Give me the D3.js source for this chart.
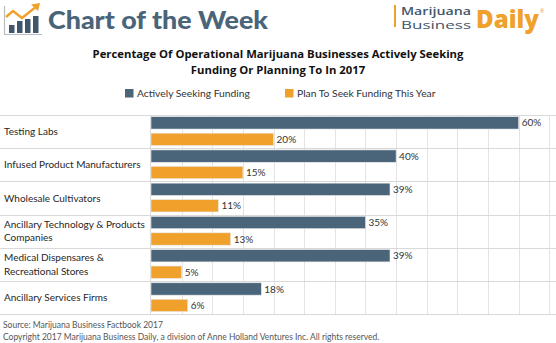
<!DOCTYPE html>
<html><head><meta charset="utf-8">
<script src="https://cdn.jsdelivr.net/npm/d3@7"></script>
<style>
html,body{margin:0;padding:0;background:#fff;}
svg{display:block;font-family:Lato,"Open Sans",sans-serif;}
</style></head>
<body>
<script>
const categories = [["Testing Labs"],["Infused Product Manufacturers"],["Wholesale Cultivators"],["Ancillary Technology & Products","Companies"],["Medical Dispensares &","Recreational Stores"],["Ancillary Services Firms"]];
const seriesNames = ["Actively Seeking Funding","Plan To Seek Funding This Year"];
const activelySeeking = [60,40,39,35,39,18];
const planToSeek = [20,15,11,13,5,6];
const gridTicks = [0,5,10,15,20,25,30,35,40,45,50,55,60,65];
const colors = ["#4a6479","#f0a12c"];

const W=556,H=343;
const svg=d3.select("body").append("svg").attr("width",W).attr("height",H);

// Header logo left
const lg=svg.append("g");
lg.append("path").attr("d","M4.5,6 V34.5 H42").attr("fill","none").attr("stroke","#b9bcc0").attr("stroke-width",1.2);
[[9,25],[17,21],[25,19],[33,16]].forEach(([x,y])=>lg.append("rect").attr("x",x).attr("y",y).attr("width",5.5).attr("height",33-y).attr("fill","#3f566b"));
lg.append("path").attr("d","M6,17 L13,11 L22,18 L37,6").attr("fill","none").attr("stroke","#f0a12c").attr("stroke-width",2.4).attr("stroke-linejoin","round");
lg.append("path").attr("d","M31,4.5 L40,3 L38,11 Z").attr("fill","#f0a12c");
svg.append("text").attr("x",48).attr("y",29).attr("font-family","Lato, 'Open Sans', sans-serif").attr("font-weight",900).attr("font-size",25.5).attr("fill","#4a6479").attr("textLength",220).attr("lengthAdjust","spacingAndGlyphs").text("Chart of the Week");

// Header logo right
svg.append("rect").attr("x",394).attr("y",5).attr("width",2).attr("height",22).attr("fill","#f0a12c");
svg.append("text").attr("x",401).attr("y",14.5).attr("font-family","'Open Sans',sans-serif").attr("font-size",10).attr("fill","#3f566b").attr("font-weight",600).attr("textLength",70).attr("lengthAdjust","spacingAndGlyphs").text("Marijuana");
svg.append("text").attr("x",401).attr("y",28.5).attr("font-family","'Open Sans',sans-serif").attr("font-size",10).attr("fill","#3f566b").attr("font-weight",400).attr("textLength",70).attr("lengthAdjust","spacingAndGlyphs").text("Business");
svg.append("text").attr("x",476).attr("y",28).attr("font-family","'Open Sans',sans-serif").attr("font-weight",800).attr("font-size",25).attr("fill","#f0a12c").attr("textLength",63).attr("lengthAdjust","spacingAndGlyphs").text("Daily");
svg.append("text").attr("x",540).attr("y",13).attr("font-family","'Open Sans',sans-serif").attr("font-size",5).attr("fill","#f0a12c").text("®");

// Title
const title=["Percentage Of Operational Marijuana Businesses Actively Seeking","Funding Or Planning To In 2017"];
title.forEach((t,i)=>svg.append("text").attr("x",278).attr("y",58+i*16).attr("text-anchor","middle")
  .attr("font-family","'Open Sans',sans-serif").attr("font-weight",700).attr("font-size",11.3).attr("fill","#111").text(t));

// Legend
const legX=[125,285];
seriesNames.forEach((n,i)=>{
  svg.append("rect").attr("x",legX[i]).attr("y",89).attr("width",8.5).attr("height",8.5).attr("fill",colors[i]);
  svg.append("text").attr("x",legX[i]+12).attr("y",97).attr("font-size",10.3).attr("fill","#333").text(n);
});

// Plot
const x=d3.scaleLinear().domain([0,65]).range([151,549.3]);
const y=d3.scaleBand().domain(d3.range(categories.length)).range([115,314.3]);
const inner=d3.scaleBand().domain([0,1]).range([1.7,y.bandwidth()-2.7]).paddingInner(0.25);

const plot=svg.append("g");
plot.selectAll("line.v").data(gridTicks.slice(1)).enter().append("line")
  .attr("x1",d=>Math.round(x(d))+0.5).attr("x2",d=>Math.round(x(d))+0.5).attr("y1",115).attr("y2",314.3)
  .attr("stroke","#e3e3e3").attr("stroke-width",1);
plot.append("line").attr("x1",150.5).attr("x2",150.5).attr("y1",115).attr("y2",314.3).attr("stroke","#d9d9d9");
plot.selectAll("line.h").data(d3.range(categories.length+1)).enter().append("line")
  .attr("x1",0).attr("x2",W).attr("y1",d=>Math.round(115+d*y.step())+0.5).attr("y2",d=>Math.round(115+d*y.step())+0.5)
  .attr("stroke","#d9d9d9").attr("stroke-width",1.2);

const series=[activelySeeking,planToSeek];
series.forEach((vals,s)=>{
  plot.selectAll("rect.s"+s).data(vals).enter().append("rect")
    .attr("x",x(0)).attr("y",(d,i)=>y(i)+inner(s)).attr("width",d=>x(d)-x(0)).attr("height",inner.bandwidth())
    .attr("fill",colors[s]).attr("stroke","#e8eaec").attr("stroke-width",0.6);
  plot.selectAll("text.s"+s).data(vals).enter().append("text")
    .attr("x",d=>x(d)+3).attr("y",(d,i)=>y(i)+inner(s)+inner.bandwidth()/2+3.6)
    .attr("font-size",10).attr("fill","#333").text(d=>d+"%");
});

// Category labels
categories.forEach((lines,i)=>{
  const cy=y(i)+y.bandwidth()/2;
  const lh=13.2;
  lines.forEach((l,j)=>{
    svg.append("text").attr("x",4).attr("y",cy+3.6+(j-(lines.length-1)/2)*lh)
      .attr("font-size",10).attr("fill","#262626").text(l);
  });
});

// Footer
svg.append("text").attr("x",3).attr("y",328).attr("font-size",8.5).attr("fill","#555").text("Source: Marijuana Business Factbook 2017");
svg.append("text").attr("x",3).attr("y",340).attr("font-size",8.5).attr("fill","#555").text("Copyright 2017 Marijuana Business Daily, a division of Anne Holland Ventures Inc. All rights reserved.");
</script>
</body></html>
